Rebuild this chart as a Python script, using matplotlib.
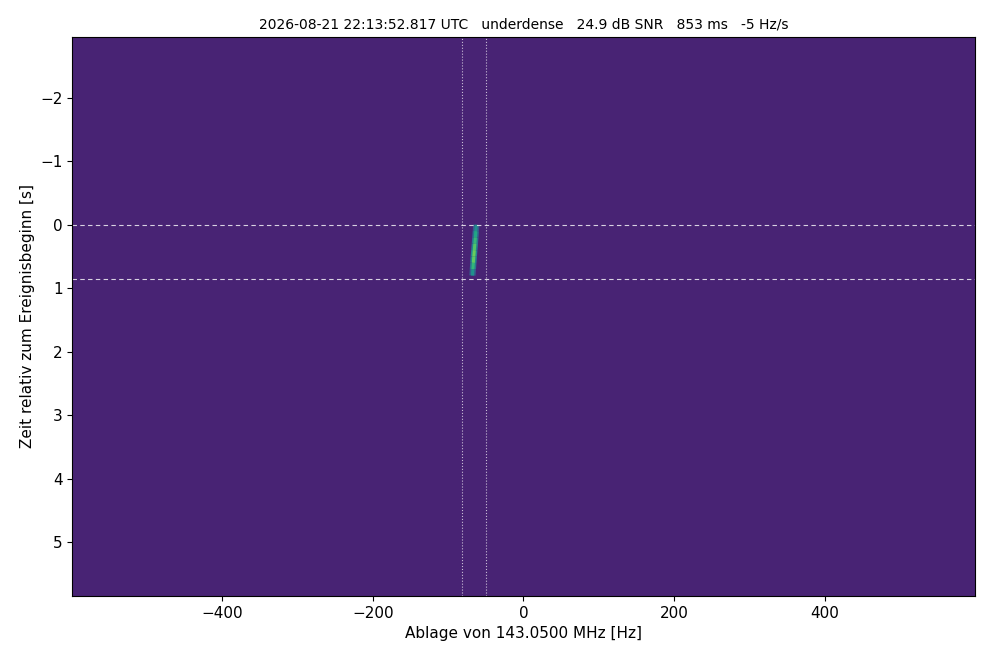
import numpy as np
import matplotlib
matplotlib.use("Agg")
import matplotlib.pyplot as plt
from matplotlib.collections import LineCollection

# --- data ---
freq_range = [-598.6, 598.6]          # Hz offset
time_range = [-2.96, 5.85]            # s relative to event start
noise_floor = [0.10]                  # colormap level of background (mean)
trace_time = [0.0, 0.1, 0.2, 0.3, 0.4, 0.5, 0.6, 0.7, 0.8]
trace_freq = [-62.6, -63.2, -63.8, -64.5, -65.2, -65.9, -66.5, -67.1, -67.7]
trace_level = [0.42, 0.55, 0.63, 0.70, 0.76, 0.78, 0.72, 0.60, 0.42]
event_start = 0.0
event_end = 0.853
band_edges = [-81.5, -49.5]
title = "2026-08-21 22:13:52.817 UTC   underdense   24.9 dB SNR   853 ms   -5 Hz/s"

plt.rcParams["font.size"] = 11
fig = plt.figure(figsize=(9.9, 6.6), dpi=100)
ax = fig.add_axes([0.073, 0.097, 0.9115, 0.847])
cmap = plt.get_cmap("viridis")

ax.imshow([[noise_floor[0]]], cmap=cmap, vmin=0, vmax=1, aspect="auto",
          extent=[freq_range[0], freq_range[1], time_range[1], time_range[0]],
          interpolation="nearest")

pts = np.column_stack([trace_freq, trace_time])
segs = [pts[i:i + 2] for i in range(len(pts) - 1)]
lv = [(trace_level[i] + trace_level[i + 1]) / 2 for i in range(len(pts) - 1)]
outer = LineCollection(segs, colors=[cmap(v * 0.6) for v in lv], linewidths=4.5,
                       capstyle="butt")
inner = LineCollection(segs, colors=[cmap(v) for v in lv], linewidths=2.2,
                       capstyle="butt")
ax.add_collection(outer)
ax.add_collection(inner)

for t in (event_start, event_end):
    ax.axhline(t, color="white", lw=0.8, ls=(0, (4, 3)), alpha=0.8)
for f in band_edges:
    ax.axvline(f, color="white", lw=0.8, ls=":", alpha=0.7)

ax.set_xlim(freq_range)
ax.set_ylim(time_range[1], time_range[0])
ax.set_xticks([-400, -200, 0, 200, 400])
ax.set_yticks([-2, -1, 0, 1, 2, 3, 4, 5])
ax.set_xlabel("Ablage von 143.0500 MHz [Hz]")
ax.set_ylabel("Zeit relativ zum Ereignisbeginn [s]")
ax.set_title(title, fontsize=10)

fig.savefig("out.png", dpi=100)
